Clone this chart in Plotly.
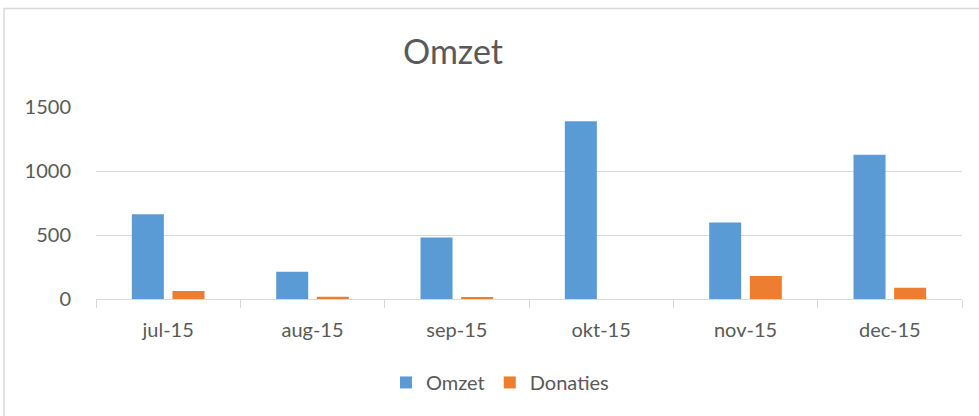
import plotly.graph_objects as go

months = ["jul-15", "aug-15", "sep-15", "okt-15", "nov-15", "dec-15"]
omzet = [662, 213, 480, 1389, 597, 1126]
donaties = [62, 18, 10, 0, 179, 88]
y_ticks = [0, 500, 1000, 1500]

TXT = "#595959"
GRID = "#d9d9d9"
FONT = "Lato"

fig = go.Figure()
fig.add_trace(go.Bar(name="Omzet", x=months, y=omzet, marker=dict(color="#5B9BD5", line=dict(width=0))))
fig.add_trace(go.Bar(name="Donaties", x=months, y=donaties, marker=dict(color="#ED7D31", line=dict(width=0))))

W, H = 979, 416
L, R = 96, 962
T, B = 106.7, 299.3
pw, ph = R - L, B - T

def px_x(x):
    return (x - L) / pw

def px_y(y):
    return (B - y) / ph

fig.update_layout(
    width=W, height=H,
    margin=dict(l=L, r=W - R, t=T, b=H - B, pad=0),
    paper_bgcolor="white", plot_bgcolor="white",
    font=dict(family=FONT, color=TXT, size=20),
    barmode="group", bargap=0.437, bargroupgap=0.212,
    title=dict(text="Omzet", x=px_x(453), xref="paper", xanchor="center",
               y=1 - 52 / H, yref="container", yanchor="middle",
               font=dict(size=34, color=TXT, family=FONT)),
    legend=dict(orientation="h", x=px_x(500), xanchor="center", y=px_y(383), yanchor="middle",
                font=dict(size=20, color=TXT), traceorder="normal", itemwidth=30),
    xaxis=dict(showgrid=False, showline=True, linecolor=GRID, linewidth=1,
               ticks="outside", tickson="boundaries", ticklen=8, tickcolor=GRID,
               ticklabelstandoff=13, tickfont=dict(size=20, color=TXT)),
    yaxis=dict(range=[0, 1500], tickvals=y_ticks, showgrid=True, gridcolor=GRID, gridwidth=1,
               zeroline=False, showline=False, ticks="", ticklabelstandoff=24,
               tickfont=dict(size=20, color=TXT)),
    shapes=[dict(type="rect", xref="paper", yref="paper",
                 x0=px_x(4), x1=px_x(990), y0=px_y(430), y1=px_y(8),
                 line=dict(color=GRID, width=1.5), fillcolor="rgba(0,0,0,0)", layer="below")],
)

fig.write_html("out.html", config={"displayModeBar": False},
               post_script="document.body.style.margin='0';document.body.style.overflow='hidden';")
